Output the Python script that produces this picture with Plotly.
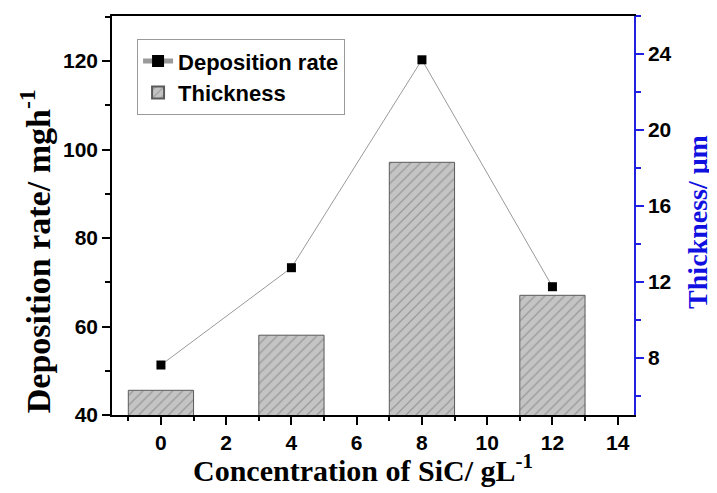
import plotly.graph_objects as go

concentration = [0, 4, 8, 12]
deposition_rate = [51.3, 73.3, 120.3, 69.0]
thickness = [6.3, 9.2, 18.3, 11.3]

x_ticks = [0, 2, 4, 6, 8, 10, 12, 14]
left_ticks = [40, 60, 80, 100, 120]
right_ticks = [8, 12, 16, 20, 24]

fig = go.Figure()

fig.add_trace(go.Bar(
    x=concentration, y=thickness, name="Thickness", yaxis="y",
    width=2,
    marker=dict(
        color="#c4c4c4",
        line=dict(color="#5a5a5a", width=1),
        pattern=dict(shape="/", bgcolor="#c4c4c4", fgcolor="#6e6e6e",
                     size=7, solidity=0.18),
    ),
    legendrank=2,
))

fig.add_trace(go.Scatter(
    x=concentration, y=deposition_rate, name="Deposition rate", yaxis="y2",
    mode="lines+markers",
    line=dict(color="#9a9a9a", width=1),
    marker=dict(symbol="square", size=9, color="black"),
    legendrank=1,
))

tickfont = dict(family="Liberation Sans, Arial", size=21, color="black", weight="bold")
serif = "Liberation Serif, Times New Roman"

fig.update_layout(
    width=709, height=485,
    margin=dict(l=104, r=83, t=8, b=78, autoexpand=False),
    plot_bgcolor="white", paper_bgcolor="white",
    showlegend=True,
    legend=dict(
        x=0.048, y=0.942, xanchor="left", yanchor="top",
        bgcolor="white", bordercolor="#9a9a9a", borderwidth=1,
        font=dict(family="Liberation Sans, Arial", size=22, color="black", weight="bold"),
        tracegroupgap=0, itemsizing="constant",
    ),
    xaxis=dict(
        range=[-1.5, 14.5], tickvals=x_ticks, ticktext=[str(v) for v in x_ticks],
        showgrid=False, zeroline=False, automargin=False,
        showline=True, linecolor="black", linewidth=1.5, mirror=True,
        ticks="outside", ticklen=8, tickwidth=1.5, tickcolor="black",
        minor=dict(dtick=1, tick0=1, ticks="outside", ticklen=4, tickcolor="black", tickwidth=1.5),
        tickfont=tickfont,
    ),
    yaxis=dict(
        side="right", range=[5, 26], tickvals=right_ticks,
        showgrid=False, zeroline=False, automargin=False,
        showline=True, linecolor="#2020e0", linewidth=1.5,
        ticks="outside", ticklen=8, tickwidth=1.5, tickcolor="#2020e0",
        minor=dict(dtick=2, tick0=6, ticks="outside", ticklen=5, tickcolor="#2020e0", tickwidth=1.5),
        tickfont=tickfont,
    ),
    yaxis2=dict(
        overlaying="y", side="left", range=[40, 130.2], tickvals=left_ticks,
        showgrid=False, zeroline=False, automargin=False,
        showline=True, linecolor="black", linewidth=1.5,
        ticks="outside", ticklen=8, tickwidth=1.5, tickcolor="black",
        minor=dict(dtick=10, tick0=50, ticks="outside", ticklen=5, tickcolor="black", tickwidth=1.5),
        tickfont=tickfont, ticksuffix="\u00a0",
    ),
    annotations=[
        dict(text="Concentration of SiC/ gL<sup>-1</sup>", xref="paper", yref="paper",
             x=0.481, y=-0.133, xanchor="center", yanchor="middle", showarrow=False,
             font=dict(family=serif, size=30, color="black", weight="bold")),
        dict(text="Deposition rate/ mgh<sup>-1</sup>", xref="paper", yref="paper",
             x=-0.146, y=0.41, xanchor="center", yanchor="middle", showarrow=False,
             textangle=-90,
             font=dict(family=serif, size=34, color="black", weight="bold")),
        dict(text="Thickness/ μm", xref="paper", yref="paper",
             x=1.1226, y=0.484, xanchor="center", yanchor="middle", showarrow=False,
             textangle=-90,
             font=dict(family=serif, size=28, color="#1010e0", weight="bold")),
    ],
)

fig.write_html("out.html")
